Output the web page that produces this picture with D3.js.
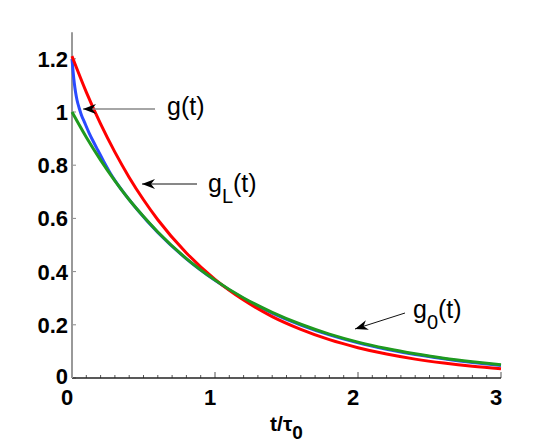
<!DOCTYPE html>
<html><head><meta charset="utf-8">
<script src="https://cdn.jsdelivr.net/npm/d3@7"></script>
<style>body{margin:0;background:#fff}svg{display:block}</style>
</head><body>
<svg id="c" width="554" height="443"></svg>
<script>
const tGreen = [0,0.1,0.2,0.3,0.4,0.5,0.6,0.8,1.0,1.2,1.4,1.6,1.8,2.0,2.2,2.4,2.6,2.8,3.0];
const g0Vals = [1,0.905,0.819,0.741,0.670,0.607,0.549,0.449,0.368,0.301,0.247,0.202,0.165,0.135,0.111,0.091,0.074,0.061,0.050];
const tRed = [0,0.1,0.2,0.3,0.4,0.5,0.6,0.8,1.0,1.2,1.4,1.6,1.8,2.0,2.2,2.4,2.6,2.8,3.0];
const gLVals = [1.21,1.075,0.955,0.849,0.754,0.670,0.595,0.470,0.371,0.293,0.231,0.183,0.144,0.114,0.090,0.071,0.056,0.044,0.035];
const tBlue = [0,0.008,0.016,0.025,0.035,0.05,0.065,0.09,0.12,0.15,0.18,0.22,0.27,0.35,0.45,0.6,0.8,1.0,1.2,1.4,1.6,1.8,2.0,2.2,2.4,2.6,2.8,3.0];
const gVals = [1.2,1.15,1.109,1.074,1.045,1.015,0.99,0.958,0.921,0.888,0.857,0.816,0.768,0.705,0.637,0.547,0.448,0.367,0.299,0.244,0.199,0.162,0.132,0.108,0.088,0.072,0.058,0.047];
const xTicks = [0,1,2,3];
const yTicks = [0,0.2,0.4,0.6,0.8,1,1.2];
const yTickLabels = ["0","0.2","0.4","0.6","0.8","1","1.2"];

const svg = d3.select("#c");
const x = d3.scaleLinear().domain([0,3]).range([72,501]);
const y = d3.scaleLinear().domain([0,1.3]).range([378,32.2]);
const font = "'Liberation Sans', Arial, sans-serif";

// minor x ticks
const minor = d3.range(0,3.0001,0.1);
svg.append("g").selectAll("line").data(minor).join("line")
  .attr("x1",d=>x(d)).attr("x2",d=>x(d))
  .attr("y1",y(0)).attr("y2",d=>Math.abs(d-Math.round(d))<1e-6? y(0)-6 : y(0)-3)
  .attr("stroke","#555").attr("stroke-width",1);
// y ticks
svg.append("g").selectAll("line").data(yTicks).join("line")
  .attr("x1",x(0)).attr("x2",x(0)+4).attr("y1",d=>y(d)).attr("y2",d=>y(d))
  .attr("stroke","#888").attr("stroke-width",1);
// axis lines
svg.append("line").attr("x1",x(0)).attr("x2",x(3)).attr("y1",y(0)).attr("y2",y(0))
  .attr("stroke","#222").attr("stroke-width",1.3);
svg.append("line").attr("x1",x(0)).attr("x2",x(0)).attr("y1",y(0)).attr("y2",y(1.3))
  .attr("stroke","#999").attr("stroke-width",2);

// tick labels
svg.append("g").selectAll("text").data(yTicks).join("text")
  .attr("x",x(0)-4).attr("y",d=>y(d)+(d===0?6:8)).attr("text-anchor","end")
  .attr("font-family",font).attr("font-weight","bold").attr("font-size",22)
  .text((d,i)=>yTickLabels[i]);
svg.append("g").selectAll("text").data(xTicks).join("text")
  .attr("x",d=>x(d)-5).attr("y",405).attr("text-anchor","middle")
  .attr("font-family",font).attr("font-weight","bold").attr("font-size",22)
  .text(d=>d);

// axis label
const xl = svg.append("text").attr("x",(x(0)+x(3))/2).attr("y",431).attr("text-anchor","middle")
  .attr("font-family",font).attr("font-weight","bold").attr("font-size",21);
xl.append("tspan").text("t/τ");
xl.append("tspan").attr("dy",8).attr("font-size",19).text("0");

// curves
const line = d3.line().curve(d3.curveMonotoneX);
function draw(ts, vs, color){
  svg.append("path").attr("d", line(ts.map((t,i)=>[x(t),y(vs[i])])))
    .attr("fill","none").attr("stroke",color).attr("stroke-width",3);
}
draw(tBlue, gVals, "#2a4bff");
draw(tRed, gLVals, "#ff0000");
draw(tGreen, g0Vals, "#1f9a1f");

// annotations
function arrow(x1,y1,x2,y2,col,w){
  svg.append("line").attr("x1",x1).attr("y1",y1).attr("x2",x2).attr("y2",y2)
    .attr("stroke",col).attr("stroke-width",w);
  const a = Math.atan2(y2-y1,x2-x1);
  const L=13, W=5;
  const bx = x2 - L*Math.cos(a), by = y2 - L*Math.sin(a);
  const mx = x2 - 9*Math.cos(a), my = y2 - 9*Math.sin(a);
  const px = -Math.sin(a), py = Math.cos(a);
  svg.append("path").attr("d",`M${x2},${y2}L${bx+px*W},${by+py*W}L${mx},${my}L${bx-px*W},${by-py*W}Z`)
    .attr("fill","#000");
}
arrow(155,109,83,109,"#888",1.5);
arrow(197,184,142,184,"#111",1);
arrow(405,313,355,329,"#111",1);

function label(xp, yp, sub){
  const t = svg.append("text").attr("x",xp).attr("y",yp)
    .attr("font-family",font).attr("font-size",25);
  t.append("tspan").text("g");
  if(sub){
    t.append("tspan").attr("dy",11).attr("font-size",20).text(sub);
    t.append("tspan").attr("dy",-11).text("(t)");
  } else t.append("tspan").text("(t)");
}
label(167,115,null);
label(208,192,"L");
label(413,318,"0");
</script>
</body></html>
